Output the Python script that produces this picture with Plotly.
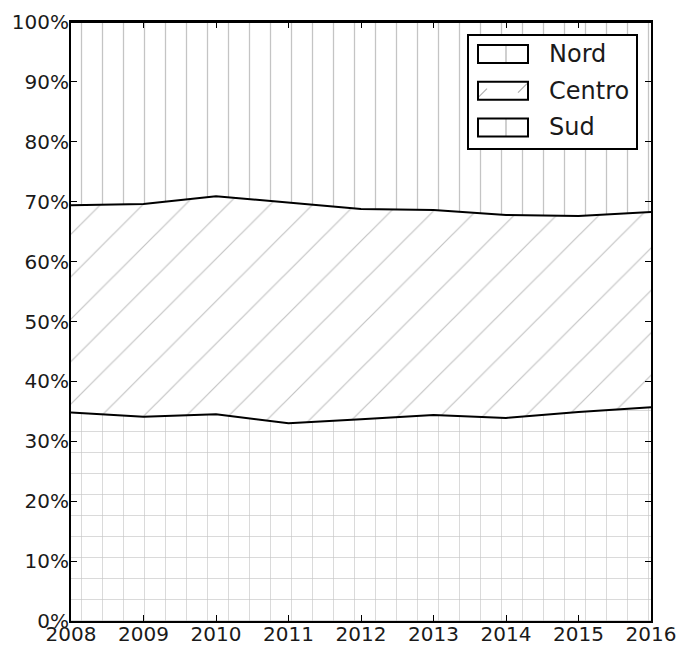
import plotly.graph_objects as go

# quota per anno, in percentuale (somma = 100)
anni = [2008, 2009, 2010, 2011, 2012, 2013, 2014, 2015, 2016]
nord = [34.8, 34.1, 34.5, 33.0, 33.7, 34.4, 33.9, 34.9, 35.7]
centro = [34.6, 35.5, 36.4, 36.9, 35.1, 34.2, 33.9, 32.7, 32.6]
sud = [30.6, 30.4, 29.1, 30.1, 31.2, 31.4, 32.2, 32.4, 31.7]

y_ticks = list(range(0, 101, 10))
y_labels = [f"{v}%" for v in y_ticks]

nomi = ["Nord", "Centro", "Sud"]

W, H = 682, 648
L, R, T, B = 71, 31, 22, 27
GRIGIO = "#c4c4c4"

serie = [
    (nord, "+", 21, 0.06),
    (centro, "/", 30, 0.04),
    (sud, "|", 21, 0.06),
]

fig = go.Figure()
for nome, (valori, forma, passo, spessore) in zip(nomi, serie):
    fig.add_trace(go.Scatter(
        x=anni, y=valori, name=nome, mode="lines",
        stackgroup="uno", showlegend=False,
        line=dict(color="black", width=2),
        fillpattern=dict(shape=forma, size=passo, solidity=spessore,
                         fgcolor=GRIGIO, bgcolor="white", fgopacity=1),
    ))

asse = dict(showline=True, linecolor="black", linewidth=2, mirror="ticks",
            ticks="inside", ticklen=6, tickcolor="black", showgrid=False,
            zeroline=False, automargin=False)

fig.update_xaxes(range=[2008, 2016], tickvals=anni, ticklabelstandoff=-6, **asse)
fig.update_yaxes(range=[0, 100], tickvals=y_ticks, ticktext=y_labels,
                 ticklabelstandoff=-4, **asse)


# legenda disegnata a mano (i riquadri della legenda di plotly non sono rettangoli tratteggiati)
def px_x(p):
    return (p - L) / (W - L - R)


def px_y(p):
    return (H - B - p) / (H - T - B)


def riquadro(x0, y0, x1, y1, **kw):
    fig.add_shape(type="rect", xref="paper", yref="paper",
                  x0=px_x(x0), x1=px_x(x1), y0=px_y(y1), y1=px_y(y0), **kw)


def segmento(x0, y0, x1, y1, colore="#b0b0b0", w=1.2):
    fig.add_shape(type="line", xref="paper", yref="paper",
                  x0=px_x(x0), x1=px_x(x1), y0=px_y(y0), y1=px_y(y1),
                  line=dict(color=colore, width=w))


riquadro(468, 35, 637, 149, line=dict(color="black", width=2), fillcolor="white")
for i, nome in enumerate(nomi):
    yc = 54 + i * 36.7
    y0, y1 = yc - 9, yc + 9
    if nome == "Centro":
        segmento(478, y1 - 2, 487, y1 - 11)
        segmento(518, y0 + 11, 527, y0 + 2)
    else:
        segmento(506, y0, 506, y1)
    riquadro(478, y0, 528, y1, line=dict(color="black", width=2))
    fig.add_annotation(xref="paper", yref="paper", x=px_x(547), y=px_y(yc),
                       text=nome, showarrow=False, xanchor="left", yanchor="middle",
                       font=dict(size=24))

fig.update_layout(
    width=W, height=H,
    margin={"l": L, "r": R, "t": T, "b": B},
    paper_bgcolor="white", plot_bgcolor="white",
    font=dict(family="DejaVu Sans", size=20, color="#1a1a1a"),
)

fig.write_html("out.html", config={"displayModeBar": False},
               post_script="document.body.style.margin='0';")
